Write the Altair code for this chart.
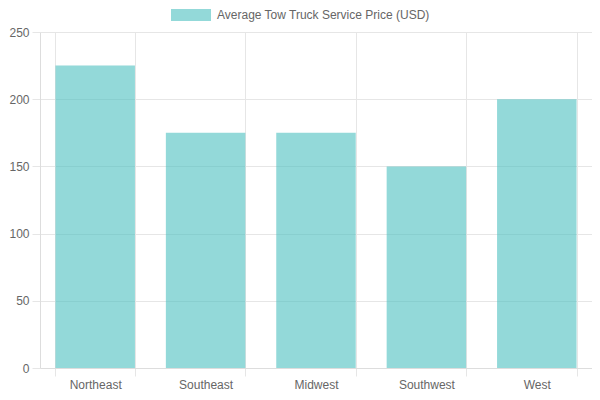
import altair as alt
import pandas as pd

# Average tow truck service price by region

regions = ['Northeast', 'Southeast', 'Midwest', 'Southwest', 'West']
prices = [225, 175, 175, 150, 200]
series_name = 'Average Tow Truck Service Price (USD)'
y_ticks = [0, 50, 100, 150, 200, 250]

df = pd.DataFrame({'Region': regions, 'Price': prices, 'Series': series_name})

font = 'Liberation Sans'
grey = '#666666'

bars = alt.Chart(df).mark_bar().encode(
    x=alt.X('Region:N', sort=regions, title=None,
            scale=alt.Scale(paddingInner=0.28, paddingOuter=0.14),
            axis=alt.Axis(labelAngle=0, tickBand='extent', grid=True,
                          gridColor='#e6e6e6', tickColor='#e6e6e6', tickSize=8,
                          domainColor='#dddddd', labelPadding=3,
                          labelFont=font, labelFontSize=12, labelColor=grey)),
    y=alt.Y('Price:Q', title=None,
            scale=alt.Scale(domain=[0, 250], nice=False),
            axis=alt.Axis(values=y_ticks, gridColor='#e6e6e6', tickColor='#e6e6e6',
                          tickSize=8, domainColor='#dddddd', labelPadding=3,
                          labelFont=font, labelFontSize=12, labelColor=grey)),
    color=alt.Color('Series:N', title=None,
                    scale=alt.Scale(range=['rgba(75,192,192,0.6)']),
                    legend=alt.Legend(orient='none', legendX=141, legendY=-27,
                                      padding=0, symbolType='M-2,-0.6H2V0.6H-2Z',
                                      symbolSize=400, symbolStrokeWidth=0,
                                      labelOffset=16, labelLimit=400, labelFont=font,
                                      labelFontSize=12, labelColor=grey))
)

chart = bars.properties(
    width=552,
    height=336,
    autosize=alt.AutoSizeParams(type='none'),
    padding={'left': 32, 'top': 24, 'right': 0, 'bottom': 24}
).configure_view(stroke=None)

chart.save("out.html", embed_options={"renderer": "svg", "actions": False})
